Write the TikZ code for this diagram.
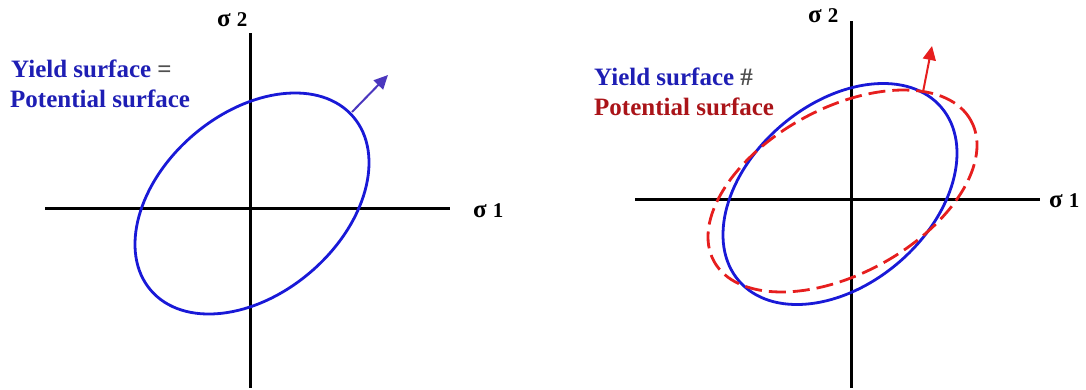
\documentclass[tikz,border=0pt]{standalone}
\usepackage{fontspec}
\setmainfont{Liberation Serif}
\usetikzlibrary{arrows.meta}
\definecolor{txtblue}{RGB}{30,30,180}
\definecolor{txtred}{RGB}{170,20,25}
\definecolor{curveblue}{RGB}{25,25,215}
\definecolor{curvered}{RGB}{230,30,30}
\definecolor{arrowblue}{RGB}{75,55,190}
\definecolor{symgray}{RGB}{80,80,80}
\newcommand{\sigmalabel}[1]{{\fontsize{25}{25}\selectfont σ}\hspace{6pt}#1}
\begin{document}
\begin{tikzpicture}[x=1pt,y=-1pt,
  axisline/.style={line width=3pt,black},
  lbl/.style={anchor=base west,inner sep=0pt,font=\bfseries\fontsize{25}{30}\selectfont},
  siglbl/.style={anchor=base west,inner sep=0pt,font=\bfseries\fontsize{21}{22}\selectfont},
  yieldcurve/.style={line width=2.8pt,curveblue},
  potcurve/.style={line width=2.8pt,curvered,dash pattern=on 17pt off 7pt},
  normalarrow/.style={line width=2pt,-{Triangle[length=14pt,width=13pt]}}
]
\useasboundingbox (0,0) rectangle (1086,389);

% ---------- left panel ----------
\coordinate (lxa) at (45,208);
\coordinate (lxb) at (450,208);
\coordinate (lya) at (250,33);
\coordinate (lyb) at (250,388);
\draw[axisline] (lxa) -- (lxb);
\draw[axisline] (lya) -- (lyb);
\node[siglbl] (ls1) at (473,217) {\sigmalabel{1}};
\node[siglbl] (ls2) at (217,26) {\sigmalabel{2}};

\begin{scope}[shift={(252,203.5)},rotate=40.6]
  \draw[yieldcurve] (0,0) ellipse [x radius=133.3pt,y radius=90.2pt];
\end{scope}
\coordinate (larrowstart) at (352,112);
\coordinate (larrowtip) at (388,75);
\draw[normalarrow,arrowblue] (larrowstart) -- (larrowtip);

\node[lbl,txtblue] (lt1) at (11,77) {Yield surface \textcolor{symgray}{=}};
\node[lbl,txtblue] (lt2) at (10,107) {Potential surface};

% ---------- right panel ----------
\coordinate (rxa) at (635,199);
\coordinate (rxb) at (1040,199);
\coordinate (rya) at (851,21);
\coordinate (ryb) at (851,388);
\draw[axisline] (rxa) -- (rxb);
\draw[axisline] (rya) -- (ryb);
\node[siglbl] (rs1) at (1049,207) {\sigmalabel{1}};
\node[siglbl] (rs2) at (808,22) {\sigmalabel{2}};

\begin{scope}[shift={(840,194)},rotate=40.6]
  \draw[yieldcurve] (0,0) ellipse [x radius=133.3pt,y radius=90.2pt];
\end{scope}
\begin{scope}[shift={(842.5,191)},rotate=28.7]
  \draw[potcurve] (0,0) ellipse [x radius=146.5pt,y radius=82.6pt];
\end{scope}
\coordinate (rarrowstart) at (923,92);
\coordinate (rarrowtip) at (932,46);
\draw[normalarrow,curvered] (rarrowstart) -- (rarrowtip);

\node[lbl,txtblue] (rt1) at (594,85) {Yield surface \textcolor{symgray}{\#}};
\node[lbl,txtred] (rt2) at (594,115) {Potential surface};
\end{tikzpicture}
\end{document}
